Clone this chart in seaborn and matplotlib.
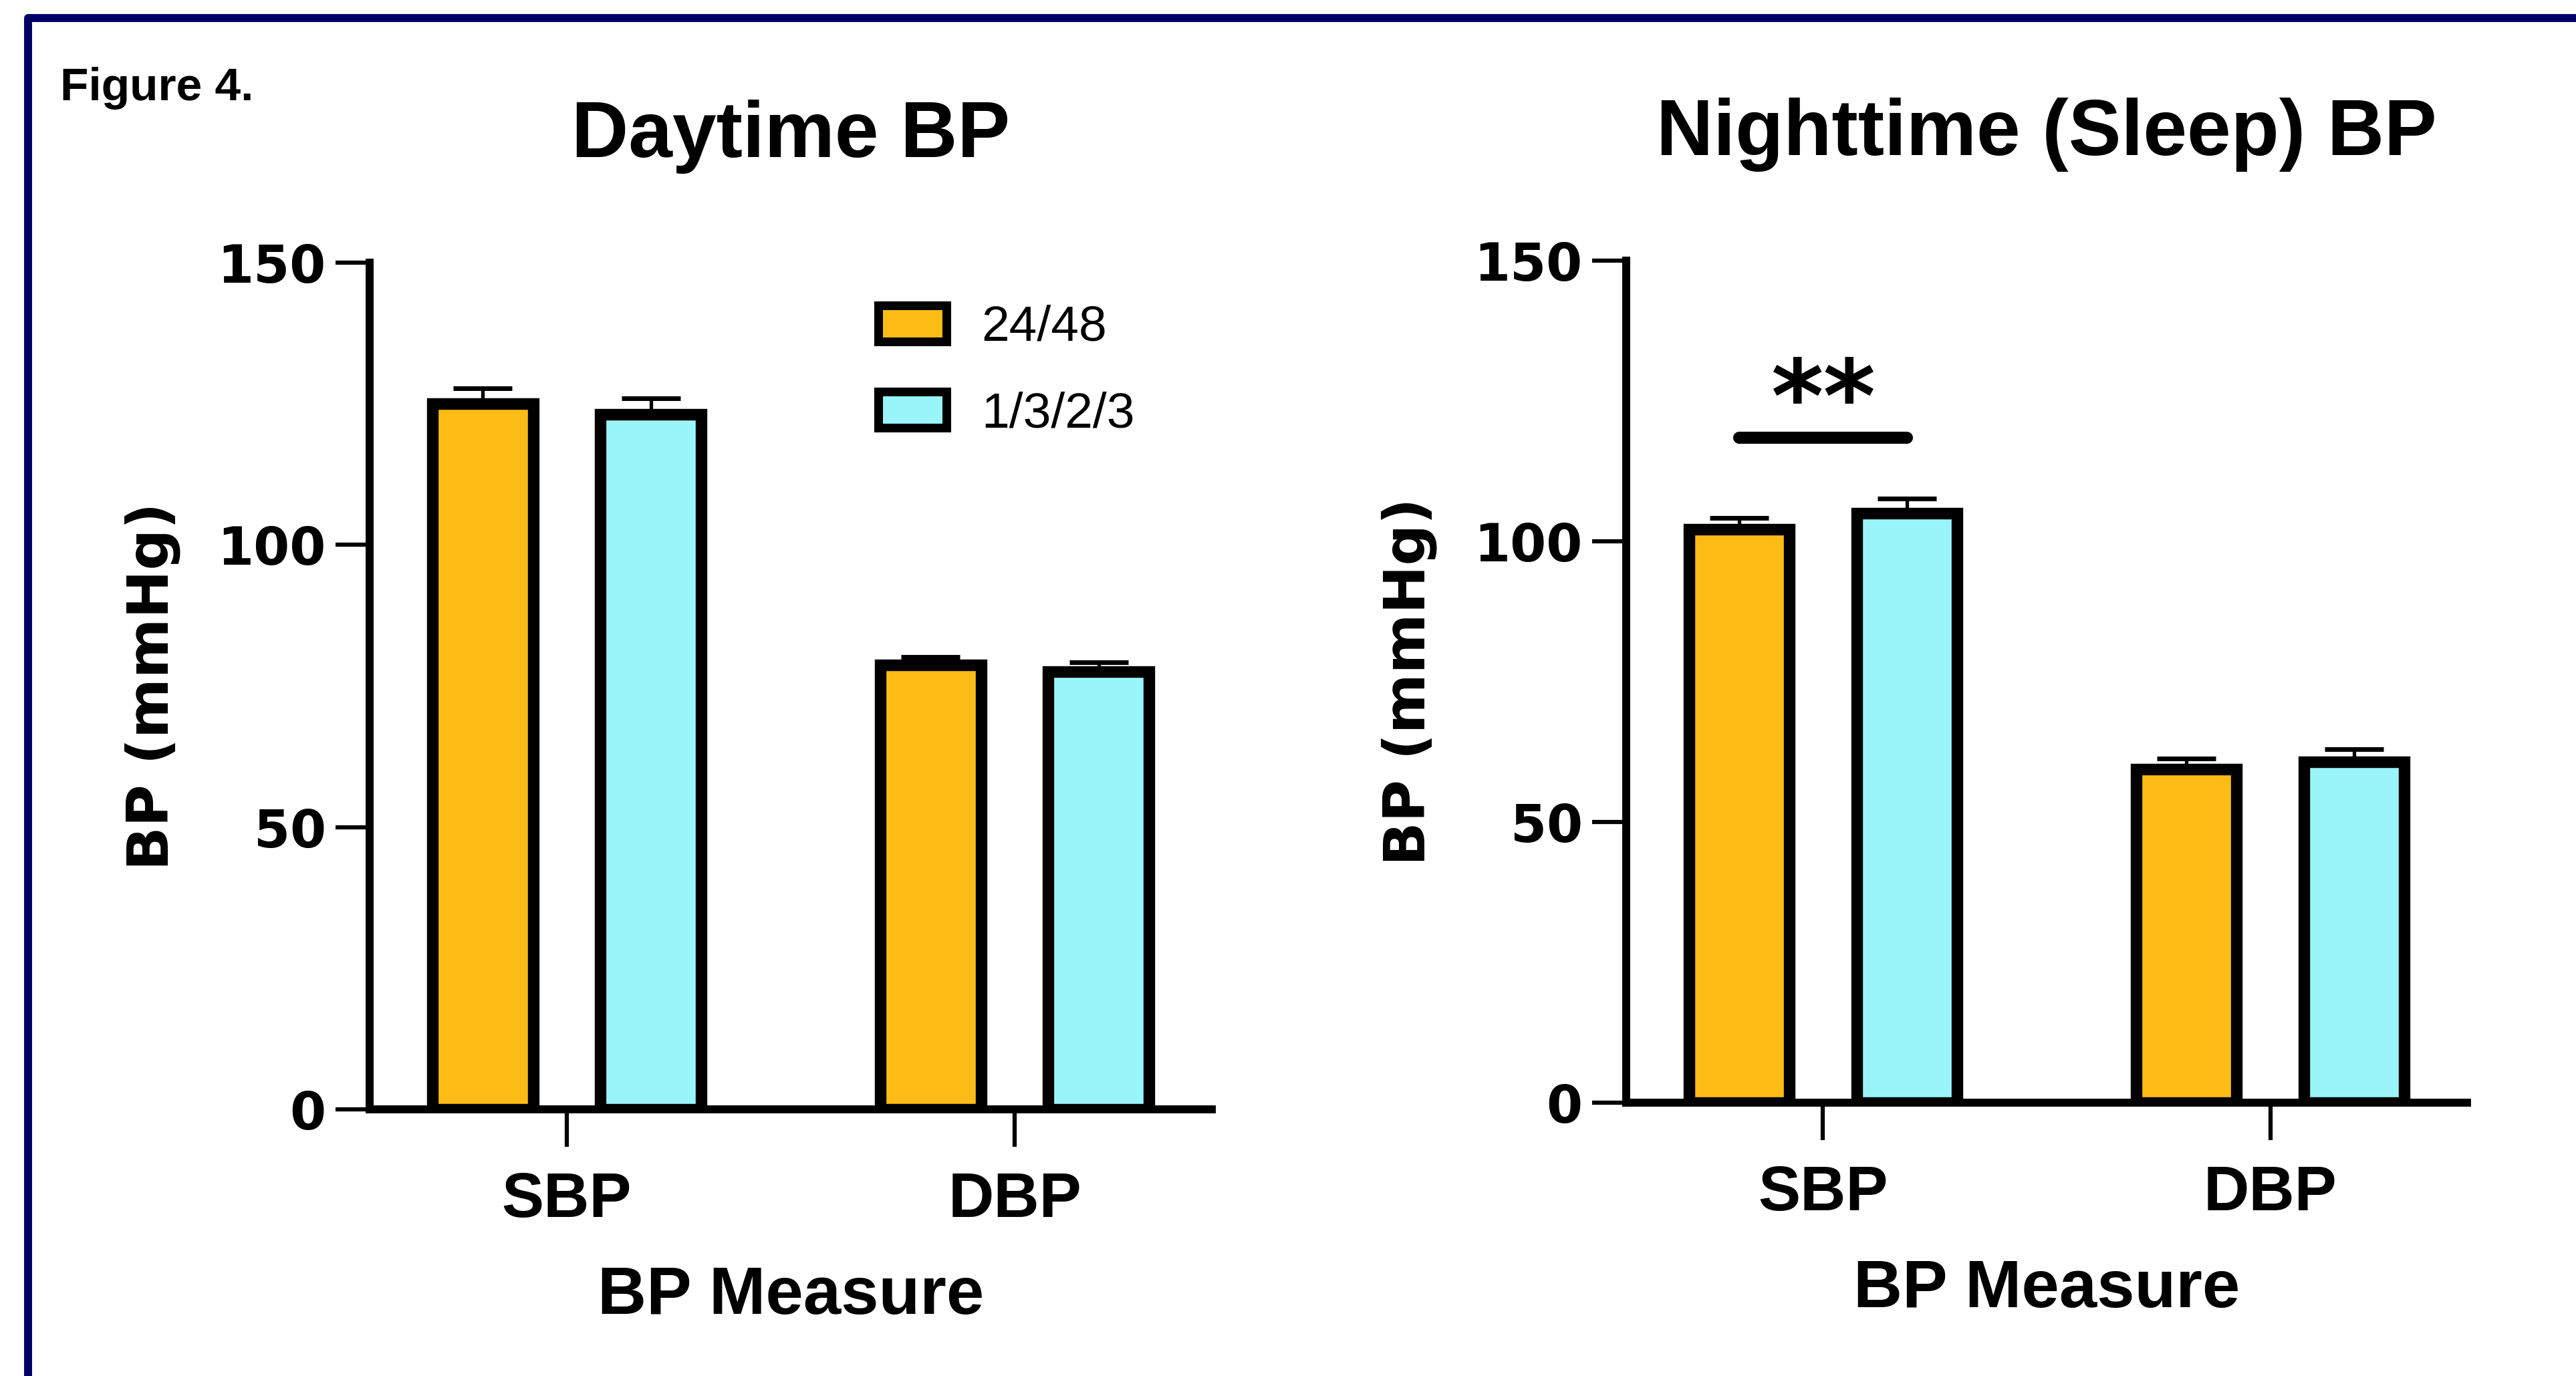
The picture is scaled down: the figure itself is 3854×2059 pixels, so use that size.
# %%
import numpy as np
import pandas as pd
import matplotlib
matplotlib.use("Agg")
import matplotlib.pyplot as plt
import seaborn as sns
from matplotlib.patches import Patch, Rectangle

# %%
measures = ["SBP", "DBP"]
schedules = ["24/48", "1/3/2/3"]
yticks = [0, 50, 100, 150]
ytick_labels = ["0", "50", "100", "150"]

# daytime means / SEM (mmHg)
day_2448 = [125.0, 78.7]
day_1323 = [123.1, 77.6]
day_sem_2448 = [2.7, 1.5]
day_sem_1323 = [2.9, 1.6]

# nighttime (sleep) means / SEM (mmHg)
night_2448 = [102.2, 59.4]
night_1323 = [105.0, 60.7]
night_sem_2448 = [2.0, 1.9]
night_sem_1323 = [2.6, 2.3]

sig_label = "**"
sig_y = 118.5
colors = ["#FDBB16", "#99F5F9"]

W, H = 3855, 2059

sns.set_style("ticks")
plt.rcParams["font.family"] = ["Liberation Sans", "DejaVu Sans"]
plt.rcParams.update({"text.color": "black", "axes.labelcolor": "black",
                     "xtick.color": "black", "ytick.color": "black",
                     "axes.edgecolor": "black"})


def draw_panel(ax, m1, m2, s1, s2, title):
    df = pd.DataFrame({"measure": measures * 2,
                       "schedule": [schedules[0]] * 2 + [schedules[1]] * 2,
                       "bp": m1 + m2,
                       "sem": s1 + s2})
    sns.barplot(data=df, x="measure", y="bp", hue="schedule", order=measures,
                hue_order=schedules, palette=colors, saturation=1,
                errorbar=None, width=0.75, gap=0.4, edgecolor="black",
                linewidth=12.5, legend=False, ax=ax, zorder=2)
    # one-sided SEM bars on top of each bar
    for p in ax.patches:
        x = p.get_x() + p.get_width() / 2
        h = p.get_height()
        row = df.iloc[(df["bp"] - h).abs().argmin()]
        ax.errorbar(x, h, yerr=[[0], [row["sem"]]], fmt="none", ecolor="black",
                    elinewidth=3.8, capsize=32, capthick=5, zorder=1)
    ax.set_ylim(0, 150)
    ax.set_xlim(-0.44, 1.44)
    ax.set_yticks(yticks, ytick_labels, fontsize=56, fontweight="bold",
                  family="DejaVu Sans")
    ax.set_xticks(range(len(measures)), measures, fontsize=68, fontweight="bold")
    sns.despine(ax=ax)
    for s in ["left", "bottom"]:
        ax.spines[s].set_linewidth(8.6)
    ax.tick_params(axis="y", length=37, width=4.5, pad=10)
    ax.tick_params(axis="x", length=40, width=4.5, pad=26)
    ax.set_ylabel("BP (mmHg)", fontsize=62, fontweight="bold",
                  family="DejaVu Sans", labelpad=40)
    ax.set_xlabel("BP Measure", fontsize=73, fontweight="bold", labelpad=38)
    ax.set_title(title, fontsize=85, fontweight="bold", pad=114)
    return df


fig = plt.figure(figsize=(W / 100, H / 100), dpi=100)
ax1 = fig.add_axes([553 / W, 1 - 1660 / H, 1260 / W, 1267 / H])
ax2 = fig.add_axes([2433 / W, 1 - 1650 / H, 1258 / W, 1260 / H])

draw_panel(ax1, day_2448, day_1323, day_sem_2448, day_sem_1323, "Daytime BP")
draw_panel(ax2, night_2448, night_1323, night_sem_2448, night_sem_1323,
           "Nighttime (Sleep) BP")

# significance bracket between SBP bars at night
sbp_x = sorted(p.get_x() + p.get_width() / 2 for p in ax2.patches)[:2]
ax2.plot(sbp_x, [sig_y, sig_y], color="black", lw=13, solid_capstyle="round")
ax2.text(np.mean(sbp_x), sig_y + 6.0, sig_label, ha="center", va="center",
         fontsize=108, fontweight="bold", family="DejaVu Sans")

handles = [Patch(facecolor=c, edgecolor="black", linewidth=9.4) for c in colors]
ax1.legend(handles, schedules, loc="upper left",
           bbox_to_anchor=(1314 / W, 1 - 456 / H), bbox_transform=fig.transFigure,
           frameon=False, prop={"family": "Liberation Sans", "size": 54},
           handlelength=1.36, handleheight=0.73, handletextpad=0.7,
           labelspacing=0.8, borderpad=0, borderaxespad=0)

fig.text(90 / W, 1 - 150 / H, "Figure 4.", fontsize=50, fontweight="bold",
         va="baseline", ha="left")

# navy frame (only top and left edges fall inside the image)
fig.add_artist(Rectangle((42 / W, -0.2), 1.2, 1.2 - 27 / H,
                         transform=fig.transFigure, fill=False,
                         edgecolor="#000066", linewidth=8.6, joinstyle="round"))

fig.savefig("out.png", dpi=100)
